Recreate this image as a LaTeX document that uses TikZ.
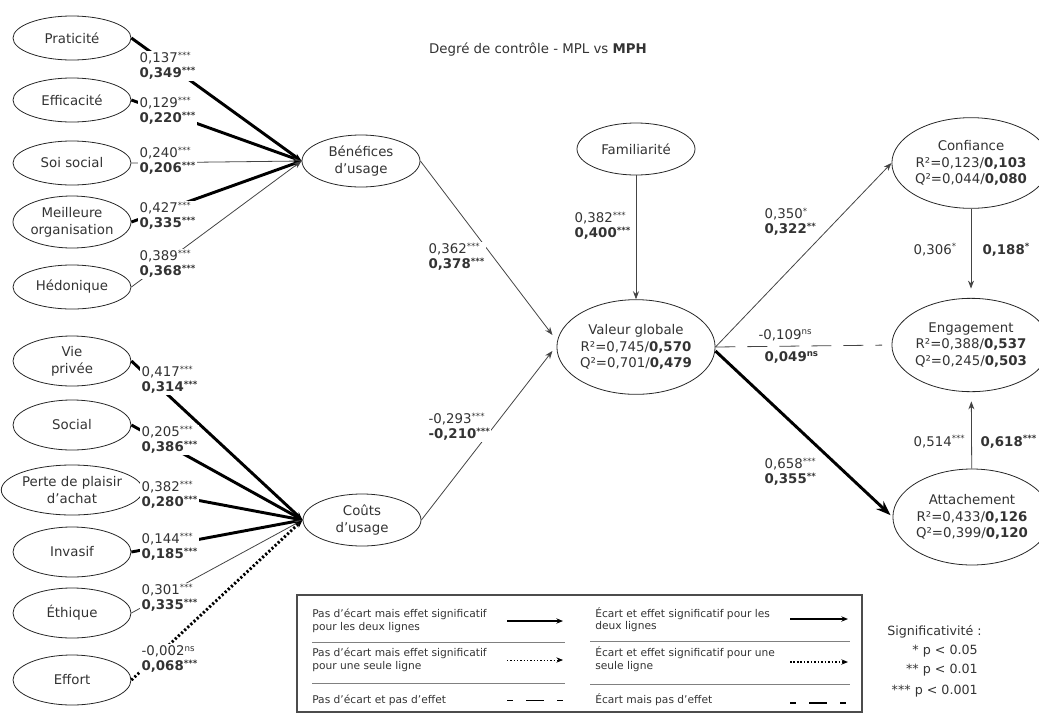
\documentclass[tikz,border=0pt]{standalone}
\usepackage{fontspec}
\setmainfont{DejaVu Sans}
\usetikzlibrary{arrows.meta,shapes.geometric}
\definecolor{txt}{HTML}{333333}
\definecolor{ln}{HTML}{444444}
\newcommand{\sg}[1]{\smash{\raisebox{3.3pt}{\fontsize{6.5}{6.5}\selectfont #1}}}
\begin{document}
\begin{tikzpicture}[x=0.75pt,y=-0.75pt,
  every node/.style={font=\fontsize{10}{12.5}\selectfont, text=txt},
  ell/.style={draw=black!85, line width=0.6pt, ellipse, inner sep=0pt, align=center},
  ind/.style={ell, minimum width=88.5pt, minimum height=33pt},
  indb/.style={ell, minimum width=88.5pt, minimum height=37.5pt},
  mid/.style={ell, minimum width=88.5pt, minimum height=39pt},
  big/.style={ell, minimum width=103pt, minimum height=71pt},
  lab/.style={anchor=west, align=left, fill=white, inner sep=1pt, font=\fontsize{10}{11.2}\selectfont},
  labn/.style={anchor=west, align=left, inner sep=1pt},
  thn/.style={line width=0.6pt, draw=ln},
  thk/.style={line width=2.2pt, draw=black},
  arr/.style={-{Stealth[length=6pt,width=4.5pt]}},
  arrb/.style={-{Stealth[length=11pt,width=8pt]}},
  dots/.style={dash pattern=on 1.6pt off 1.6pt},
  dsh/.style={dash pattern=on 15pt off 9pt},
  legt/.style={anchor=west, align=left, inner sep=0pt, font=\fontsize{8}{9.5}\selectfont},
  sigt/.style={anchor=east, inner sep=0pt, font=\fontsize{9.5}{11}\selectfont}
]
\useasboundingbox (0,0) rectangle (1039,718);

% title
\node (title) at (538,50) {Degré de contrôle - MPL vs \textbf{MPH}};

% indicators (benefits)
\node[ind] (pra) at (72,38) {Praticité};
\node[ind] (eff) at (72,100) {Efficacité};
\node[ind] (soi) at (72,163) {Soi social};
\node[ell, minimum width=88.5pt, minimum height=39pt] (mei) at (72,222) {Meilleure\\organisation};
\node[ind] (hed) at (72,287) {Hédonique};

% indicators (costs)
\node[indb] (vie) at (72,361) {Vie\\privée};
\node[indb] (soc) at (72,425) {Social};
\node[indb] (per) at (72,490) {Perte de plaisir\\d’achat};
\node[indb] (inv) at (72,552) {Invasif};
\node[indb] (eth) at (72,613) {Éthique};
\node[indb] (effo) at (72,680) {Effort};

% constructs
\node[mid] (ben) at (361,161) {Bénéfices\\d’usage};
\node[mid] (cou) at (362,520) {Coûts\\d’usage};
\node[mid] (fam) at (636,149) {Familiarité};
\node[big] (val) at (636,347) {Valeur globale\\R²=0,745/\textbf{0,570}\\Q²=0,701/\textbf{0,479}};
\node[big, minimum width=100pt, minimum height=68pt] (conf) at (971,163) {Confiance\\R²=0,123/\textbf{0,103}\\Q²=0,044/\textbf{0,080}};
\node[big, minimum width=100pt, minimum height=70pt] (eng) at (971,345) {Engagement\\R²=0,388/\textbf{0,537}\\Q²=0,245/\textbf{0,503}};
\node[big, minimum width=98pt, minimum height=72pt] (att) at (972,517) {Attachement\\R²=0,433/\textbf{0,126}\\Q²=0,399/\textbf{0,120}};

% indicator paths
\draw[thk,arr] (pra.east) -- (ben.west);
\draw[thk,arr] (eff.east) -- (ben.west);
\draw[thn,arr] (soi.east) -- (ben.west);
\draw[thk,arr] (mei.east) -- (ben.west);
\draw[thn,arr] (hed.east) -- (ben.west);

\draw[thk,arr] (vie.east) -- (cou.west);
\draw[thk,arr] (soc.east) -- (cou.west);
\draw[thk,arr] (per.east) -- (cou.west);
\draw[thk,arr] (inv.east) -- (cou.west);
\draw[thn,arr] (eth.east) -- (cou.west);
\draw[thk,dots,arr] (effo.east) -- (cou.west);

% structural paths
\draw[thn,arr,shorten >=5pt] (ben.east) -- ([yshift=5pt]val.west);
\draw[thn,arr,shorten >=5pt] (cou.east) -- ([yshift=1pt]val.west);
\draw[thn,arr] (fam) -- (val);
\draw[thn,arr] (val.east) -- (conf.west);
\draw[thn,dsh,shorten >=7pt] (val.east) -- (eng.west);
\draw[thk,arrb,shorten >=2pt] ([yshift=-3pt]val.east) -- (att.west);
\draw[thn,arr,shorten >=7pt] (conf) -- (eng);
\draw[thn,arr,shorten >=7pt] (att) -- (eng);

% path labels (benefits)
\node[lab] (l1) at (138,66) {0,137\sg{***}\\\textbf{0,349\sg{***}}};
\node[lab] (l2) at (138,111) {0,129\sg{***}\\\textbf{0,220\sg{***}}};
\node[lab] (l3) at (138,161) {0,240\sg{***}\\\textbf{0,206\sg{***}}};
\node[lab] (l4) at (138,216) {0,427\sg{***}\\\textbf{0,335\sg{***}}};
\node[lab] (l5) at (138,264) {0,389\sg{***}\\\textbf{0,368\sg{***}}};
% path labels (costs)
\node[lab] (l6) at (140,380) {0,417\sg{***}\\\textbf{0,314\sg{***}}};
\node[lab] (l7) at (140,440) {0,205\sg{***}\\\textbf{0,386\sg{***}}};
\node[lab] (l8) at (140,495) {0,382\sg{***}\\\textbf{0,280\sg{***}}};
\node[lab] (l9) at (140,547) {0,144\sg{***}\\\textbf{0,185\sg{***}}};
\node[lab] (l10) at (140,598) {0,301\sg{***}\\\textbf{0,335\sg{***}}};
\node[lab] (l11) at (140,659) {-0,002\sg{ns}\\\textbf{0,068\sg{***}}};

% structural labels
\node[lab] (lbv) at (427,257) {0,362\sg{***}\\\textbf{0,378\sg{***}}};
\node[lab] (lcv) at (427,427) {-0,293\sg{***}\\\textbf{-0,210\sg{***}}};
\node[lab] (lfv) at (573,226) {0,382\sg{***}\\\textbf{0,400\sg{***}}};
\node[lab] (lvc) at (763,222) {0,350\sg{*}\\\textbf{0,322\sg{**}}};
\node[labn] (lve1) at (757,335) {-0,109\sg{ns}};
\node[labn] (lve2) at (763,357) {\textbf{0,049\sg{ns}}};
\node[lab] (lva) at (763,472) {0,658\sg{***}\\\textbf{0,355\sg{**}}};
\node[labn] (lce1) at (912,250) {0,306\sg{*}};
\node[labn] (lce2) at (981,250) {\textbf{0,188\sg{*}}};
\node[labn] (lae1) at (912,442) {0,514\sg{***}};
\node[labn] (lae2) at (979,442) {\textbf{0,618\sg{***}}};

% legend
\node[draw=black!70, line width=0.8pt, minimum width=423.75pt, minimum height=87.75pt, inner sep=0pt] (leg) at (579.5,653.5) {};
\draw[black!50, line width=0.5pt] (312,642) -- (565,642) (312,683) -- (565,683);
\draw[black!50, line width=0.5pt] (590,641) -- (850,641) (590,684) -- (850,684);

\node[legt] (t1) at (312,621) {Pas d’écart mais effet significatif\\pour les deux lignes};
\node[legt] (t2) at (312,660) {Pas d’écart mais effet significatif\\pour une seule ligne};
\node[legt] (t3) at (312,700) {Pas d’écart et pas d’effet};
\node[legt] (t4) at (595,619.5) {Écart et effet significatif pour les\\deux lignes};
\node[legt] (t5) at (595,659) {Écart et effet significatif pour une\\seule ligne};
\node[legt] (t6) at (595,700) {Écart mais pas d’effet};

\coordinate (a1) at (507,621); \coordinate (b1) at (563,621);
\coordinate (a2) at (507,660); \coordinate (b2) at (563,660);
\coordinate (a3) at (507,700); \coordinate (b3) at (563,700);
\coordinate (a4) at (790,619); \coordinate (b4) at (848,619);
\coordinate (a5) at (790,662); \coordinate (b5) at (848,662);
\coordinate (a6) at (790,703); \coordinate (b6) at (848,703);
\draw[line width=0.8pt, -{Stealth[length=5pt,width=4pt]}] (a1) -- (b1);
\draw[line width=0.6pt, dash pattern=on 1pt off 1.5pt, -{Stealth[length=5pt,width=4pt]}] (a2) -- (b2);
\draw[line width=0.6pt, dash pattern=on 4.5pt off 10pt on 13pt off 10pt] (a3) -- (b3);
\draw[line width=1.8pt, -{Stealth[length=5pt,width=4pt]}] (a4) -- (b4);
\draw[line width=1.6pt, dash pattern=on 1.2pt off 1.4pt, -{Stealth[length=5pt,width=4pt]}] (a5) -- (b5);
\draw[line width=2pt, dash pattern=on 4.5pt off 10pt on 13pt off 10pt] (a6) -- (b6);

% significance
\node[sigt] (s0) at (982,632) {Significativité :};
\node[sigt] (s1) at (978,651) {* p < 0.05};
\node[sigt] (s2) at (978,670) {** p < 0.01};
\node[sigt] (s3) at (978,691) {*** p < 0.001};
\end{tikzpicture}
\end{document}
